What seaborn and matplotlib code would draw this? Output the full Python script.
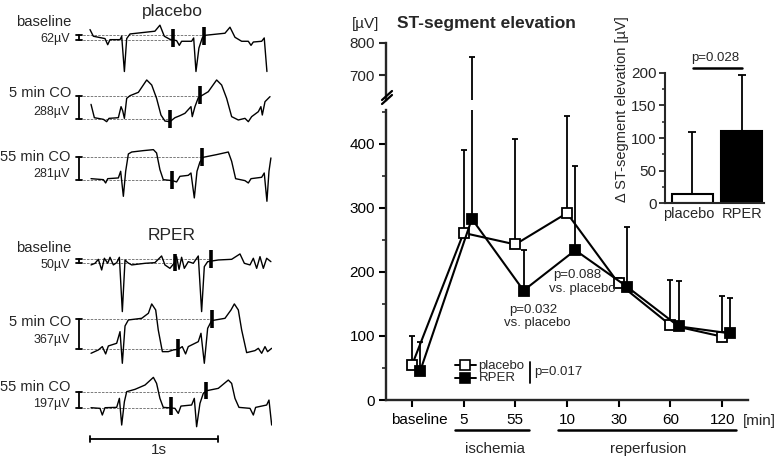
import numpy as np
import seaborn as sns
import matplotlib.pyplot as plt
from matplotlib.lines import Line2D
from matplotlib.transforms import ScaledTranslation

sns.set_style("ticks")
plt.rcParams["font.family"] = ["Liberation Sans", "DejaVu Sans"]

# ---- ECG example traces (time in s, amplitude in µV, relative to J-point level)
pl_base_t = [0, .026, .117, .138, .156, .234, .247, .268, .286, .312, .506, .545, .579, .623, .675, .696,
             .714, .792, .808, .826, .849, .875, .901, 1.052, 1.091, 1.130, 1.182, 1.234, 1.255, 1.273,
             1.338, 1.358, 1.379]
pl_base_uv = [132, 50, 21, -54, 8, 8, 50, -384, 21, 78, 112, 186, 50, 12, -4, -62,
              -12, -12, 29, -384, -95, 29, 62, 87, 161, 37, -12, -12, -62, -21,
              -12, 29, -384]
pl_5_t = [.008, .034, .104, .130, .148, .221, .242, .255, .268, .286, .312, .377, .442, .481, .519, .553,
          .584, .623, .662, .701, .740, .787, .797, .818, .844, .870, .922, .987, 1.026, 1.065, 1.104,
          1.156, 1.208, 1.234, 1.260, 1.312, 1.332, 1.343, 1.364, 1.403]
pl_5_uv = [180, 16, -4, -33, 8, 16, 152, 100, 8, 254, 287, 328, 480, 418, 254, 49,
           -25, -33, 16, 41, 70, 152, 29, 152, 262, 287, 336, 480, 418, 254, 29,
           -12, 8, -33, 29, 90, 152, 49, 213, 275]
pl_55_t = [.008, .104, .122, .138, .221, .239, .260, .278, .299, .325, .416, .494, .519, .545, .571, .642,
           .675, .701, .766, .787, .813, .834, .857, .883, .987, 1.078, 1.104, 1.135, 1.208, 1.234,
           1.255, 1.338, 1.358, 1.379, 1.395, 1.410]
pl_55_uv = [20, 8, -33, 20, 29, 111, -197, 111, 324, 348, 365, 377, 336, 131, 8, -4,
            -20, 49, 61, 90, -217, 111, 226, 283, 316, 348, 234, 20, -4, -33,
            20, 37, 90, -258, 111, 275]
rp_base_t = [.008, .039, .065, .091, .112, .138, .156, .182, .208, .229, .252, .273, .294, .325, .429, .506,
             .558, .584, .623, .655, .675, .694, .714, .735, .766, .805, .844, .870, .891, .917, 1.000,
             1.104, 1.169, 1.203, 1.247, 1.273, 1.299, 1.325, 1.351, 1.377, 1.410]
rp_base_uv = [-20, 0, 49, -82, 62, 0, 74, -20, 8, 74, -594, 41, 8, -20, 0, 8,
              90, -20, -62, 0, 82, -74, 74, -62, 20, 0, 90, -594, -41, 20, 41,
              49, 115, 0, -20, 62, -62, 82, -62, 62, 20]
rp_5_t = [.008, .065, .096, .122, .143, .208, .234, .252, .273, .299, .403, .455, .481, .512, .532, .564,
          .610, .649, .688, .719, .745, .766, .844, .865, .891, .917, .948, 1.052, 1.099, 1.125, 1.156,
          1.182, 1.221, 1.286, 1.312, 1.338, 1.364, 1.384, 1.416]
rp_5_uv = [-49, -8, 33, -57, 41, 74, 217, -172, 287, 361, 381, 443, 558, 484, 238, -29,
           -29, -8, 0, 33, -57, 33, 94, 197, -172, 258, 353, 381, 484, 558, 484,
           238, -41, -16, 12, -49, 33, -29, 12]
rp_55_t = [.008, .078, .096, .117, .208, .229, .247, .268, .286, .351, .429, .494, .519, .545, .571, .610,
           .662, .688, .709, .792, .813, .831, .857, .883, .909, 1.000, 1.078, 1.104, 1.130, 1.161,
           1.247, 1.273, 1.291, 1.377, 1.395, 1.416]
rp_55_uv = [0, -8, -90, 0, 4, 115, -213, 74, 197, 226, 279, 373, 299, 115, 4, 0,
            -8, -70, 20, 33, 115, -234, 53, 176, 209, 238, 340, 299, 115, 4,
            -8, -90, 4, 33, 94, -213]

trace_names = ["baseline", "5 min CO", "55 min CO", "baseline", "5 min CO", "55 min CO"]
st_amplitude = [62, 288, 281, 50, 367, 197]  # µV
mark1_t = [.649, .623, .642, .662, .688, .628]
mark1_uv = [23, -2, 4, 10, 16, 25]
mark2_t = [.891, .857, .870, .943, .953, .901]
mark2_uv = [53, 291, 285, 53, 377, 211]

# ---- ST-segment elevation time course
time_labels = ["baseline", "5", "55", "10", "30", "60", "120"]
placebo_mean = [54, 261, 243, 292, 182, 117, 99]
placebo_upper = [100, 390, 408, 444, 190, 188, 162]
rper_mean = [45, 283, 171, 234, 177, 115, 104]
rper_upper = [90, 757, 234, 366, 270, 186, 159]

# ---- inset: delta ST-segment elevation
groups = ["placebo", "RPER"]
delta_mean = [15, 111]
delta_upper = [109, 196]

W, H = 777, 459


def fx(px):
    return px / W


def fy(py):
    return 1 - py / H


def box(x0, y0, x1, y1):
    return [fx(x0), fy(y1), (x1 - x0) / W, (y1 - y0) / H]


def ftext(px, py, s, **kw):
    kw.setdefault("va", "baseline")
    fig.text(fx(px), fy(py), s, **kw)


def fline(xs, ys, **kw):
    fig.add_artist(Line2D([fx(x) for x in xs], [fy(y) for y in ys], color="black", **kw))


fig = plt.figure(figsize=(W / 100, H / 100), dpi=100)

# ================= left panel: ECG traces =================
PX_PER_S = 128.3
UV_PER_PX = 12.3
axe = fig.add_axes(box(0, 0, 272, H))
axe.set_xlim(-90 / PX_PER_S, (272 - 90) / PX_PER_S)
axe.set_ylim(-H * UV_PER_PX, 0)
axe.axis("off")

traces = [(pl_base_t, pl_base_uv), (pl_5_t, pl_5_uv), (pl_55_t, pl_55_uv),
          (rp_base_t, rp_base_uv), (rp_5_t, rp_5_uv), (rp_55_t, rp_55_uv)]
rows = [40.3, 119, 180.3, 263.3, 349.3, 407.7]
bar_t = (79 - 90) / PX_PER_S
cap = 3 / PX_PER_S
for i, (t, uv) in enumerate(traces):
    off = -rows[i] * UV_PER_PX
    amp = st_amplitude[i]
    axe.plot([bar_t, mark1_t[i]], [off, off], color="#666666", lw=0.6, ls=(0, (3, 1.5)))
    axe.plot([bar_t, mark2_t[i]], [off + amp, off + amp], color="#666666", lw=0.6, ls=(0, (3, 1.5)))
    sns.lineplot(x=t, y=np.array(uv) + off, sort=False, estimator=None, color="black",
                 linewidth=1.0, ax=axe)
    axe.plot([bar_t, bar_t], [off, off + amp], color="black", lw=1.3)
    for yy in (off, off + amp):
        axe.plot([bar_t - cap, bar_t + cap], [yy, yy], color="black", lw=1.3)
    for mt, mv in ((mark1_t[i], mark1_uv[i]), (mark2_t[i], mark2_uv[i])):
        axe.plot([mt, mt], [off + mv - 110, off + mv + 110], color="black", lw=2.6,
                 solid_capstyle="butt")

name_base = [25.5, 97.3, 160.7, 251.7, 326, 391]
amp_base = [41.7, 115, 177.3, 268.3, 343.3, 407.3]
for i in range(6):
    ftext(71, name_base[i], trace_names[i], ha="right", fontsize=10.6)
    ftext(70, amp_base[i], f"{st_amplitude[i]}µV", ha="right", fontsize=9)
ftext(172, 16, "placebo", ha="center", fontsize=12.5)
ftext(172, 240, "RPER", ha="center", fontsize=12.5)

axe.plot([0, 1], [-439 * UV_PER_PX] * 2, color="black", lw=1.3)
for xx in (0, 1):
    axe.plot([xx, xx], [-436 * UV_PER_PX, -442 * UV_PER_PX], color="black", lw=1.3)
ftext(159, 454, "1s", ha="center", fontsize=11)

# ================= right panel: time course (broken y axis) =================
pos = np.arange(len(time_labels))
pos_r = pos + 0.16

ax = fig.add_axes(box(386, 110, 748, 400))
axt = fig.add_axes(box(386, 43, 748, 100))

for a in (ax, axt):
    a.errorbar(pos, placebo_mean, yerr=[np.zeros(7), np.array(placebo_upper) - np.array(placebo_mean)],
               fmt="none", ecolor="black", elinewidth=1.3, capsize=2.5, capthick=1.3, zorder=2)
    a.errorbar(pos_r, rper_mean, yerr=[np.zeros(7), np.array(rper_upper) - np.array(rper_mean)],
               fmt="none", ecolor="black", elinewidth=1.3, capsize=2.5, capthick=1.3, zorder=2)
    a.set_xlim(-0.5, 6.5)
    a.set_facecolor("none")

sns.lineplot(x=pos, y=placebo_mean, ax=ax, color="black", marker="s", markersize=7.5,
             markerfacecolor="white", markeredgecolor="black", markeredgewidth=1.3,
             linewidth=1.5, zorder=3)
sns.lineplot(x=pos_r, y=rper_mean, ax=ax, color="black", marker="s", markersize=7.5,
             markerfacecolor="black", markeredgecolor="black", markeredgewidth=1.3,
             linewidth=1.5, zorder=4)

ax.set_ylim(0, 453)
ax.set_yticks([0, 100, 200, 300, 400])
ax.set_yticks([50, 150, 250, 350, 450], minor=True)
ax.set_xticks(pos)
ax.set_xticklabels(time_labels)
ax.set_xlabel("")
ax.set_ylabel("")
sns.despine(ax=ax)
for s in ("left", "bottom"):
    ax.spines[s].set_linewidth(1.7)
ax.tick_params(axis="both", which="major", direction="out", length=5, width=1.5,
               labelsize=11, pad=3, colors="black")
ax.tick_params(axis="y", which="minor", direction="out", length=3, width=1.2)
ax.tick_params(axis="x", pad=4)
lbl = ax.get_xticklabels()[0]
lbl.set_transform(lbl.get_transform() + ScaledTranslation(0.08, 0, fig.dpi_scale_trans))

axt.set_ylim(622, 800)
axt.set_yticks([700, 800])
axt.set_xticks([])
sns.despine(ax=axt, bottom=True)
axt.spines["left"].set_linewidth(1.7)
axt.tick_params(axis="y", direction="out", length=5, width=1.5, labelsize=11, pad=3)

# break marks
fline([382, 392], [100, 91], lw=1.6)
fline([382, 392], [104, 95], lw=1.6)

ftext(352, 28.3, "[µV]", fontsize=11)
ftext(397, 28.3, "ST-segment elevation", fontsize=12.5, fontweight="bold")
ftext(743, 425, "[min]", fontsize=11)

fline([455, 529], [429.5, 429.5], lw=1.8)
fline([558, 736], [429.5, 429.5], lw=1.8)
ftext(495, 453, "ischemia", ha="center", fontsize=11)
ftext(648, 453, "reperfusion", ha="center", fontsize=11)

ftext(533.5, 312.7, "p=0.032", ha="center", fontsize=9.5)
ftext(537, 326, "vs. placebo", ha="center", fontsize=9.5)
ftext(577, 278.3, "p=0.088", ha="center", fontsize=9.5)
ftext(582, 291.7, "vs. placebo", ha="center", fontsize=9.5)

# legend
for yy, face, name in ((365, "white", "placebo"), (377.7, "black", "RPER")):
    fig.add_artist(Line2D([fx(455), fx(465), fx(476)], [fy(yy)] * 3, color="black", lw=1.4,
                          marker="s", markevery=[1], markersize=7, markerfacecolor=face,
                          markeredgecolor="black", markeredgewidth=1.2))
    ftext(478.5, yy + 3.5, name, fontsize=9.5)
fline([530, 530], [362, 383], lw=1.3)
ftext(534, 375.5, "p=0.017", fontsize=9.5)

# ================= inset bar chart =================
axi = fig.add_axes(box(665, 72.7, 764, 203.3))
sns.barplot(x=groups, y=delta_mean, hue=groups, palette=["white", "black"], saturation=1,
            edgecolor="black", linewidth=1.5, width=0.83, errorbar=None, legend=False, ax=axi)
axi.errorbar([0, 1], delta_mean, yerr=[[0, 0], np.array(delta_upper) - np.array(delta_mean)],
             fmt="none", ecolor="black", elinewidth=1.3, capsize=3, capthick=1.3, zorder=5)
axi.set_xlim(-0.55, 1.45)
axi.set_ylim(0, 200)
axi.set_yticks(np.arange(0, 201, 50))
axi.set_yticks(np.arange(25, 200, 50), minor=True)
axi.set_facecolor("none")
sns.despine(ax=axi)
for s in ("left", "bottom"):
    axi.spines[s].set_linewidth(1.5)
axi.tick_params(axis="y", which="major", direction="out", length=4, width=1.3, labelsize=11, pad=2)
axi.tick_params(axis="y", which="minor", direction="out", length=2.5, width=1.1)
axi.tick_params(axis="x", length=0, labelsize=10.5, pad=3)
xl = axi.get_xticklabels()[0]
xl.set_transform(xl.get_transform() + ScaledTranslation(-0.03, 0, fig.dpi_scale_trans))
axi.set_xlabel("")
axi.set_ylabel("")
fig.text(fx(621.7), fy(109), "Δ ST-segment elevation [µV]", rotation=90, ha="center",
         va="center", fontsize=10.5)
fline([693, 742], [67.7, 67.7], lw=1.8)
ftext(715, 60.7, "p=0.028", ha="center", fontsize=9.5)

fig.savefig("out.png", dpi=100, facecolor="white")
